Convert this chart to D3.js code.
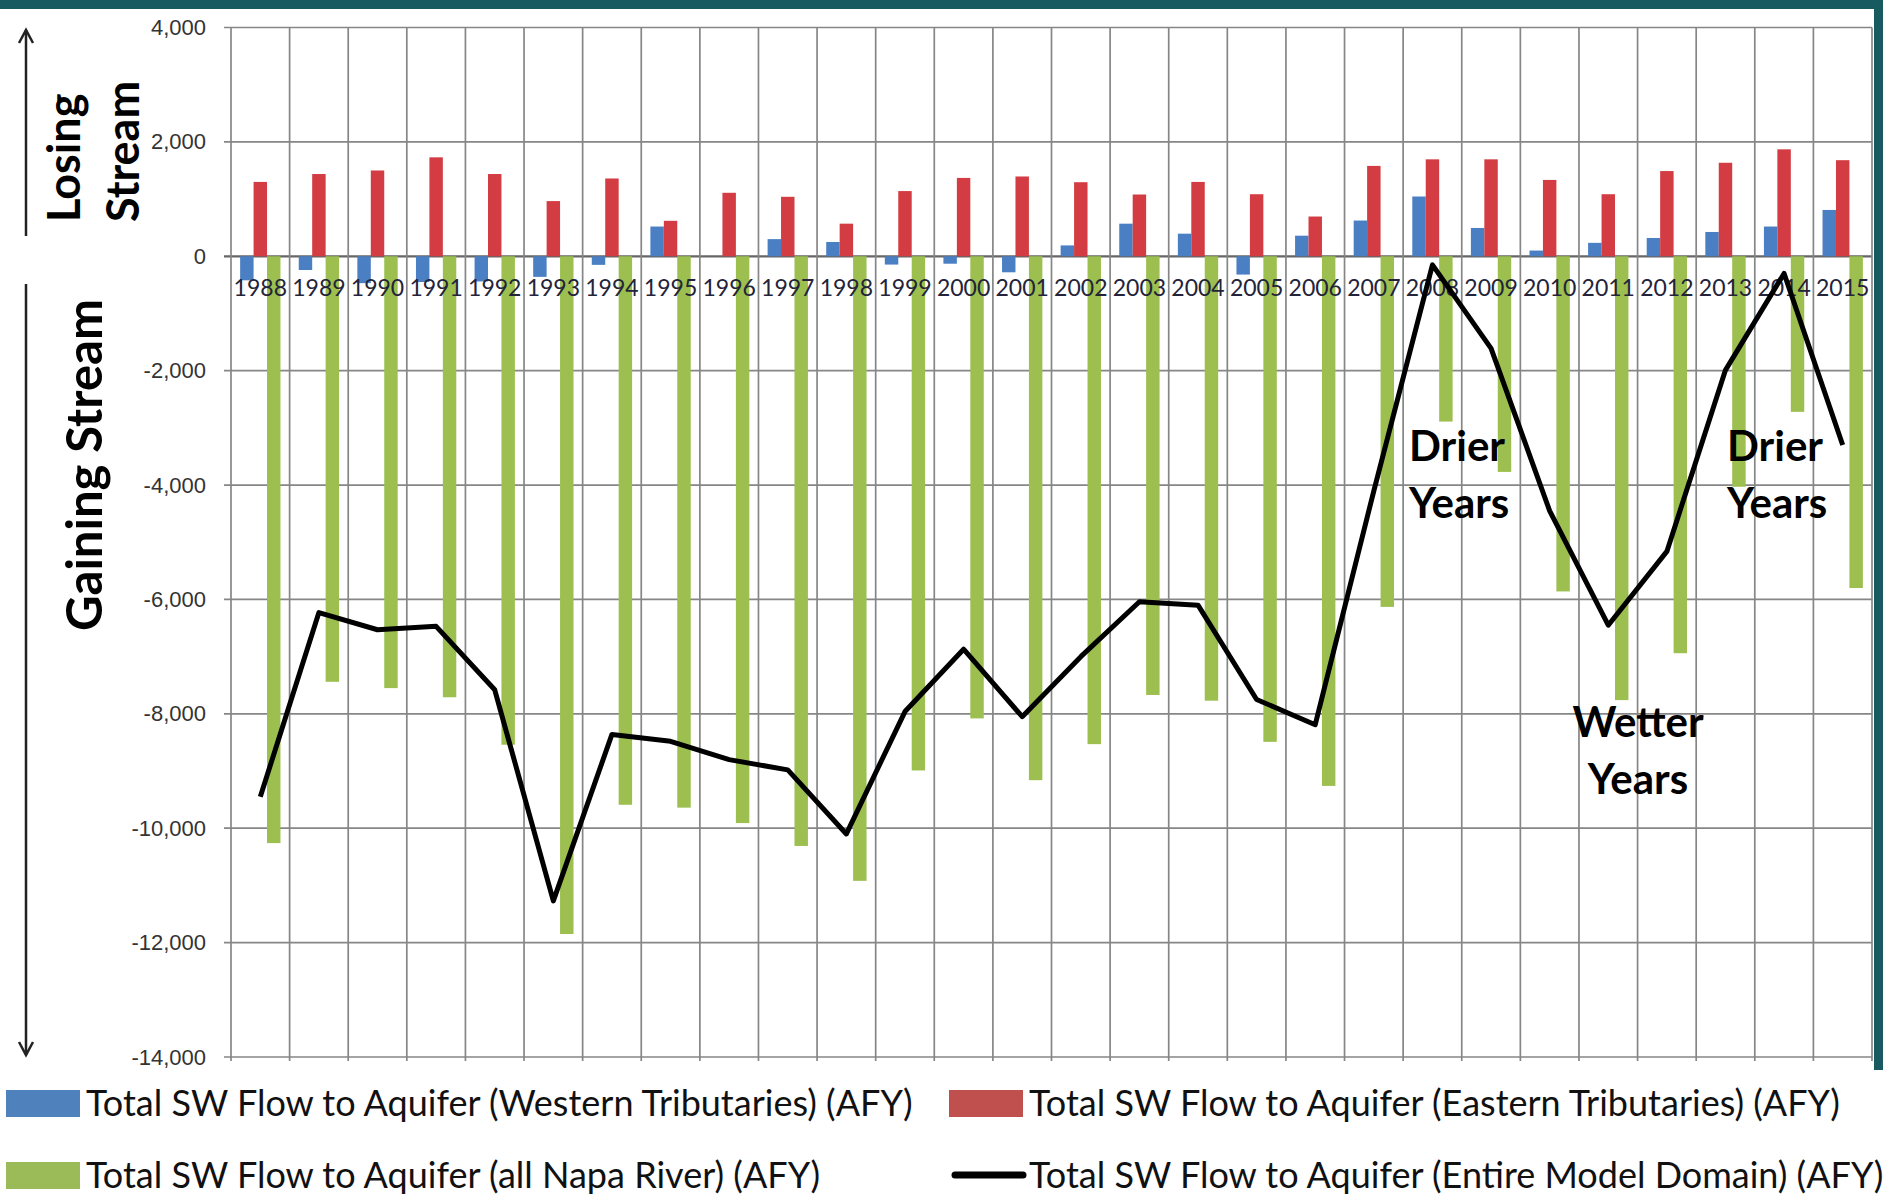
<!DOCTYPE html>
<html>
<head>
<meta charset="UTF-8">
<script src="https://d3js.org/d3.v7.min.js"></script>
<style>
  body { margin: 0; background: #fff; }
  svg { display: block; }
  .tick-y { font-family: "Liberation Sans", Arial, sans-serif; font-size: 22px; fill: #333; }
  .year { font-family: Lato, "Noto Sans", sans-serif; font-size: 23px; fill: #23233a; }
  .big { font-family: Lato, "Open Sans", sans-serif; font-weight: bold; fill: #000; }
  .legend { font-family: Lato, "Noto Sans", sans-serif; font-size: 36px; fill: #111; }
</style>
</head>
<body>
<svg width="1883" height="1196"></svg>
<script>
// data (acre-feet per year)
var years = [1988, 1989, 1990, 1991, 1992, 1993, 1994, 1995, 1996, 1997, 1998, 1999, 2000, 2001,
             2002, 2003, 2004, 2005, 2006, 2007, 2008, 2009, 2010, 2011, 2012, 2013, 2014, 2015];
var western = [-420, -240, -470, -450, -440, -360, -150, 520, 0, 300, 250, -145, -130, -280,
               190, 570, 395, -320, 360, 625, 1045, 495, 100, 235, 320, 425, 520, 810];
var eastern = [1300, 1438, 1500, 1730, 1438, 965, 1360, 620, 1110, 1040, 570, 1140, 1370, 1395,
               1295, 1080, 1300, 1085, 695, 1580, 1695, 1695, 1335, 1085, 1490, 1635, 1870, 1680];
var napa = [-10260, -7440, -7550, -7710, -8540, -11850, -9590, -9640, -9910, -10310, -10920, -8990, -8080, -9160,
            -8530, -7670, -7770, -8490, -9260, -6130, -2890, -3770, -5860, -7760, -6940, -4030, -2720, -5800];
var total = [-9450, -6230, -6530, -6470, -7580, -11270, -8360, -8480, -8800, -8980, -10100, -7960, -6870, -8050,
             -7000, -6040, -6100, -7750, -8190, -4100, -150, -1610, -4450, -6450, -5160, -1990, -300, -3300];
var yTicks = [4000, 2000, 0, -2000, -4000, -6000, -8000, -10000, -12000, -14000];

var seriesNames = ["Total SW Flow to Aquifer (Western Tributaries) (AFY)",
                   "Total SW Flow to Aquifer (Eastern Tributaries) (AFY)",
                   "Total SW Flow to Aquifer (all Napa River) (AFY)",
                   "Total SW Flow to Aquifer (Entire Model Domain) (AFY)"];

var barColors = ["#4a7fc4", "#d23c42", "#9cbf4f"];
var swatchColors = ["#4f81bd", "#c0504d", "#9bbb59"];

var svg = d3.select("svg");
var plotLeft = 231, plotRight = 1872, plotTop = 27.5, plotBottom = 1057;

var x = d3.scaleBand().domain(years).range([plotLeft, plotRight]).padding(0);
var xs = d3.scaleBand().domain([0, 1, 2]).range([0, x.bandwidth()]).paddingInner(0).paddingOuter(0.68);
var y = d3.scaleLinear().domain([-14000, 4000]).range([plotBottom, plotTop]);

// frame bits
svg.append("rect").attr("x", 0).attr("y", 0).attr("width", 1883).attr("height", 9).attr("fill", "#175b61");
svg.append("rect").attr("x", 1874).attr("y", 0).attr("width", 9).attr("height", 1070).attr("fill", "#175b61");

// grid
var g = svg.append("g");
g.selectAll(".hgrid").data(yTicks).enter().append("line")
    .attr("x1", plotLeft - 7).attr("x2", plotRight)
    .attr("y1", function(d) { return y(d); }).attr("y2", function(d) { return y(d); })
    .attr("stroke", function(d) { return d === 0 ? "#666" : "#868686"; })
    .attr("stroke-width", function(d) { return d === 0 ? 2.2 : 1.7; });

var bounds = years.map(function(d) { return x(d); }).concat([plotRight]);
g.selectAll(".vgrid").data(bounds).enter().append("line")
    .attr("x1", function(d) { return d; }).attr("x2", function(d) { return d; })
    .attr("y1", plotTop).attr("y2", plotBottom + 4)
    .attr("stroke", "#868686").attr("stroke-width", 1.7);

// y labels (plain hyphen for negatives, as in the original)
var fmt = d3.format(",");
svg.append("g")
    .attr("transform", "translate(" + plotLeft + ",0)")
    .call(d3.axisLeft(y).tickValues(yTicks).tickSize(0).tickPadding(25)
        .tickFormat(function(d) { return fmt(d).replace("\u2212", "-"); }))
    .call(function(a) { a.select(".domain").remove(); })
    .selectAll("text").attr("class", "tick-y").attr("fill", null);

// bars
var all = [western, eastern, napa];
all.forEach(function(vals, s) {
    svg.append("g").selectAll("rect").data(years).enter().append("rect")
        .attr("x", function(d) { return x(d) + xs(s); })
        .attr("width", xs.bandwidth())
        .attr("y", function(d, i) { return y(Math.max(0, vals[i])); })
        .attr("height", function(d, i) { return Math.abs(y(vals[i]) - y(0)); })
        .attr("fill", barColors[s]);
});

// year labels
svg.append("g")
    .attr("transform", "translate(0," + y(0) + ")")
    .call(d3.axisBottom(x).tickSize(0).tickPadding(23))
    .call(function(a) { a.select(".domain").remove(); })
    .selectAll("text").attr("class", "year").attr("fill", null);

// total line
var line = d3.line()
    .x(function(d, i) { return x(years[i]) + x.bandwidth() / 2; })
    .y(function(d) { return y(d); });
svg.append("path").datum(total)
    .attr("d", line)
    .attr("fill", "none").attr("stroke", "#000").attr("stroke-width", 5)
    .attr("stroke-linejoin", "round");

// side arrows
function arrow(x0, y1, y2, up) {
    svg.append("line").attr("x1", x0).attr("x2", x0).attr("y1", y1).attr("y2", y2)
        .attr("stroke", "#222").attr("stroke-width", 2.5);
    var tip = up ? y1 : y2, dir = up ? 1 : -1;
    svg.append("path")
        .attr("d", "M" + (x0 - 7) + "," + (tip + dir * 13) + "L" + x0 + "," + tip + "L" + (x0 + 7) + "," + (tip + dir * 13))
        .attr("fill", "none").attr("stroke", "#222").attr("stroke-width", 2.5);
}
arrow(26, 30, 236, true);
arrow(26, 284, 1055, false);

function vtext(txt, cx, cy, size) {
    svg.append("text").attr("class", "big")
        .attr("transform", "translate(" + cx + "," + cy + ") rotate(-90)")
        .attr("font-size", size).text(txt);
}
vtext("Losing", 80, 222, 45);
vtext("Stream", 139, 222, 45);
svg.append("text").attr("class", "big")
    .attr("transform", "translate(102,465) rotate(-90)")
    .attr("text-anchor", "middle").attr("font-size", 49).text("Gaining Stream");

// annotations
function note(lines, tx, ty, anchor) {
    lines.forEach(function(t, i) {
        svg.append("text").attr("class", "big").attr("font-size", 42)
            .attr("x", tx).attr("y", ty + i * 57).attr("text-anchor", anchor).text(t);
    });
}
note(["Drier", "Years"], 1409, 461, "start");
note(["Drier", "Years"], 1727, 461, "start");
note(["Wetter", "Years"], 1638, 737, "middle");

// legend
var legendPos = [[6, 1103], [949, 1103], [6, 1175], [949, 1175]];
[0, 1, 2, 3].forEach(function(k) {
    var p = legendPos[k];
    if (k < 3) {
        svg.append("rect").attr("x", p[0]).attr("y", p[1] - 13).attr("width", 74).attr("height", 27)
            .attr("fill", swatchColors[k]);
    } else {
        svg.append("line").attr("x1", p[0] + 6).attr("x2", p[0] + 74).attr("y1", p[1]).attr("y2", p[1])
            .attr("stroke", "#000").attr("stroke-width", 7).attr("stroke-linecap", "round");
    }
    svg.append("text").attr("class", "legend")
        .attr("x", p[0] + 80).attr("y", p[1] + 13).text(seriesNames[k]);
});
</script>
</body>
</html>
